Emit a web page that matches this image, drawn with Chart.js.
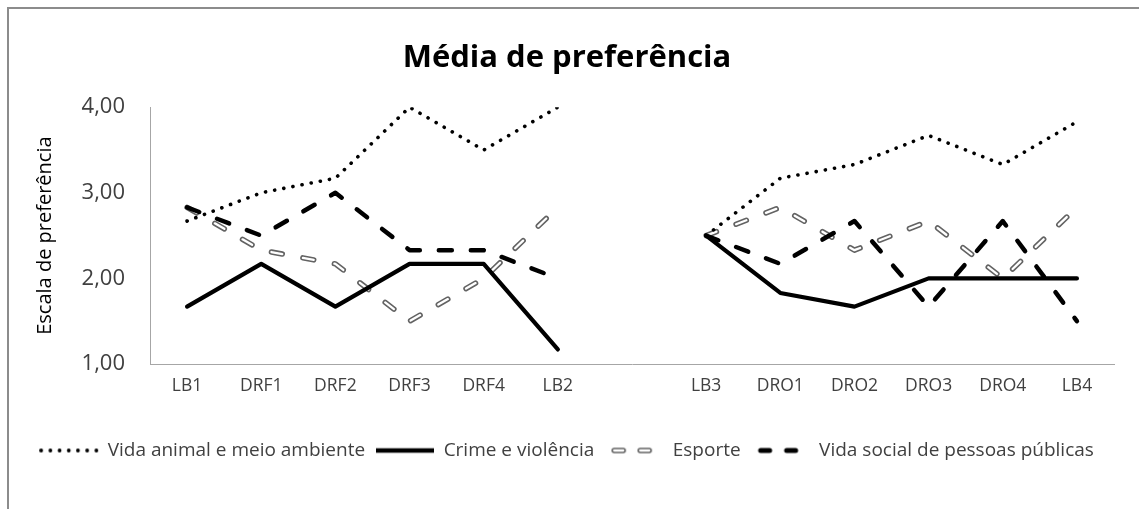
<!DOCTYPE html>
<html>
<head>
<meta charset="utf-8">
<script src="https://cdn.jsdelivr.net/npm/chart.js@4/dist/chart.umd.min.js"></script>
<style>
  html, body { margin: 0; padding: 0; background: #ffffff; }
  #frame { position: absolute; left: 7px; top: 7px; width: 1140px; height: 510px;
           border-left: 2px solid #8c8c8c; border-top: 2px solid #8c8c8c; }
  #wrap { position: absolute; left: 0; top: 0; width: 1139px; height: 509px; }
</style>
</head>
<body>
<div id="frame"></div>
<div id="wrap"><canvas id="c" width="1139" height="509"></canvas></div>
<script>
const categories = ['LB1', 'DRF1', 'DRF2', 'DRF3', 'DRF4', 'LB2', '', 'LB3', 'DRO1', 'DRO2', 'DRO3', 'DRO4', 'LB4'];
const vidaAnimal = [2.67, 3.00, 3.17, 4.00, 3.50, 4.00, null, 2.50, 3.17, 3.33, 3.67, 3.33, 3.83];
const crime      = [1.67, 2.17, 1.67, 2.17, 2.17, 1.17, null, 2.50, 1.83, 1.67, 2.00, 2.00, 2.00];
const esporte    = [2.83, 2.33, 2.17, 1.50, 2.00, 2.83, null, 2.50, 2.83, 2.33, 2.67, 2.00, 2.83];
const vidaSocial = [2.83, 2.50, 3.00, 2.33, 2.33, 2.00, null, 2.50, 2.17, 2.67, 1.67, 2.67, 1.50];
const seriesNames = ['Vida animal e meio ambiente', 'Crime e violência', 'Esporte', 'Vida social de pessoas públicas'];
const yTicks = [1, 2, 3, 4];

function sample(w, draw) {
  const cv = document.createElement('canvas');
  cv.width = w; cv.height = 12;
  const g = cv.getContext('2d');
  g.lineCap = 'round';
  draw(g, w);
  return cv;
}
const smpDot = sample(60, (g, w) => {
  g.fillStyle = '#000';
  for (let x = 2; x < w; x += 9.2) { g.beginPath(); g.arc(x, 6, 1.9, 0, Math.PI * 2); g.fill(); }
});
const smpSolid = sample(58, (g, w) => {
  g.strokeStyle = '#000'; g.lineWidth = 4.5; g.lineCap = 'butt';
  g.beginPath(); g.moveTo(0, 6); g.lineTo(w, 6); g.stroke();
});
const smpEsp = sample(52, (g, w) => {
  [[6, 15], [32, 41]].forEach(([a, b]) => {
    g.strokeStyle = '#636363'; g.lineWidth = 5.5;
    g.beginPath(); g.moveTo(a, 6); g.lineTo(b, 6); g.stroke();
    g.strokeStyle = '#fff'; g.lineWidth = 2.3;
    g.beginPath(); g.moveTo(a, 6); g.lineTo(b, 6); g.stroke();
  });
});
const smpSoc = sample(52, (g, w) => {
  g.strokeStyle = '#000'; g.lineWidth = 5;
  [[6, 15], [32, 41]].forEach(([a, b]) => { g.beginPath(); g.moveTo(a, 6); g.lineTo(b, 6); g.stroke(); });
});

const common = { pointRadius: 0, pointHoverRadius: 0, fill: false, tension: 0, spanGaps: false,
                 borderJoinStyle: 'round' };

new Chart(document.getElementById('c'), {
  type: 'line',
  data: {
    labels: categories,
    datasets: [
      Object.assign({}, common, { label: seriesNames[0], data: vidaAnimal, borderColor: '#000', borderWidth: 3.6,
        borderDash: [0.1, 9.2], borderCapStyle: 'round', pointStyle: smpDot, order: 4 }),
      Object.assign({}, common, { label: seriesNames[1], data: crime, borderColor: '#000', borderWidth: 4.2,
        borderCapStyle: 'round', pointStyle: smpSolid, order: 3 }),
      Object.assign({}, common, { label: seriesNames[2], data: esporte, borderColor: '#636363', borderWidth: 5.5,
        borderDash: [11, 21], borderCapStyle: 'round', pointStyle: smpEsp, order: 6 }),
      Object.assign({}, common, { label: '__inner', data: esporte, borderColor: '#ffffff', borderWidth: 2.3,
        borderDash: [11, 21], borderCapStyle: 'round', order: 5 }),
      Object.assign({}, common, { label: seriesNames[3], data: vidaSocial, borderColor: '#000', borderWidth: 4.5,
        borderDash: [13, 19], borderCapStyle: 'round', pointStyle: smpSoc, order: 2 })
    ]
  },
  options: {
    responsive: false,
    animation: false,
    events: [],
    layout: { padding: { left: 20, right: 25, top: 0, bottom: 39 } },
    plugins: {
      tooltip: { enabled: false },
      title: {
        display: true,
        text: 'Média de preferência',
        color: '#000',
        font: { family: 'Open Sans', size: 31, weight: 'bold' },
        padding: { top: 40, bottom: 30 }
      },
      legend: {
        position: 'bottom',
        labels: {
          usePointStyle: true,
          pointStyleWidth: 58,
          padding: 11,
          color: '#404040',
          font: { family: 'Open Sans', size: 19 },
          filter: (item) => item.text !== '__inner',
          sort: (a, b) => a.datasetIndex - b.datasetIndex
        }
      }
    },
    scales: {
      x: {
        type: 'category',
        offset: true,
        grid: { display: false, drawTicks: false },
        border: { display: true, color: '#a6a6a6', width: 1 },
        ticks: { autoSkip: false, maxRotation: 0, padding: 12, color: '#404040',
                 font: { family: 'Open Sans', size: 17.5 } },
        afterFit: (s) => { s.height = 66; }
      },
      y: {
        min: 1, max: 4,
        grid: { display: false, drawTicks: false },
        border: { display: true, color: '#a6a6a6', width: 1 },
        afterBuildTicks: (s) => { s.ticks = yTicks.map(v => ({ value: v })); },
        ticks: { padding: 25, color: '#404040', font: { family: 'Open Sans', size: 22 },
                 callback: (v) => Number(v).toFixed(2).replace('.', ',') },
        title: { display: true, text: 'Escala de preferência', color: '#000',
                 font: { family: 'Open Sans', size: 20 }, padding: { top: 13, bottom: 0 } },
        afterFit: (s) => { s.width = 130; }
      }
    }
  }
});
</script>
</body>
</html>
